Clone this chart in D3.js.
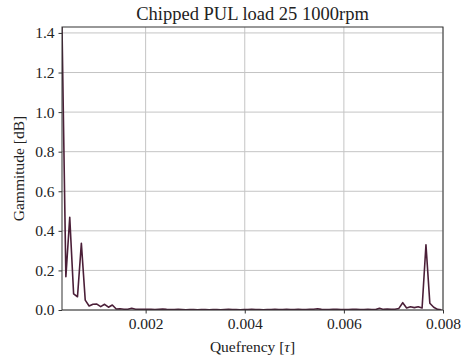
<!DOCTYPE html>
<html>
<head>
<meta charset="utf-8">
<script src="https://cdn.jsdelivr.net/npm/d3@7"></script>
<style>
  body { margin: 0; background: #fff; }
</style>
</head>
<body>
<div id="chart"></div>
<script>
// cepstrum samples, first bin shown is 4 (fs = 12800 Hz)
const sampleRate = 12800;
const firstBin = 4;
const gammitude = [
  1.43, 0.168, 0.468, 0.081, 0.067, 0.337, 0.05, 0.02, 0.029, 0.03,
  0.017, 0.029, 0.014, 0.025, 0.005, 0.006, 0.004, 0.004, 0.009, 0.004,
  0.003, 0.004, 0.003, 0.003, 0.002, 0.004, 0.005, 0.003, 0.002, 0.002,
  0.003, 0.002, 0.001, 0.002, 0.002, 0.001, 0.002, 0.002, 0.001, 0.002,
  0.002, 0.001, 0.002, 0.003, 0.002, 0.002, 0.001, 0.002, 0.002, 0.003,
  0.002, 0.002, 0.001, 0.002, 0.002, 0.003, 0.002, 0.002, 0.003, 0.002,
  0.002, 0.004, 0.002, 0.002, 0.003, 0.004, 0.006, 0.003, 0.002, 0.002,
  0.003, 0.004, 0.002, 0.002, 0.002, 0.003, 0.004, 0.002, 0.002, 0.003,
  0.002, 0.002, 0.009, 0.003, 0.005, 0.004, 0.004, 0.008, 0.037, 0.01,
  0.016, 0.012, 0.016, 0.01, 0.33, 0.034, 0.014, 0.003, 0.001
];
const xTicks = [0.002, 0.004, 0.006, 0.008];
const yTicks = [0.0, 0.2, 0.4, 0.6, 0.8, 1.0, 1.2, 1.4];

const data = gammitude.map((g, i) => ({ q: (i + firstBin) / sampleRate, g }));

const width = 462;
const height = 358;
const margin = { top: 27, right: 19, bottom: 48, left: 62 };
const innerWidth = width - margin.left - margin.right;
const innerHeight = height - margin.top - margin.bottom;
const font = "'Liberation Serif', 'Times New Roman', serif";

const svg = d3.select("#chart")
  .append("svg")
  .attr("width", width)
  .attr("height", height)
  .style("display", "block");

const x = d3.scaleLinear()
  .domain([firstBin / sampleRate, 0.008])
  .range([0, innerWidth]);

const y = d3.scaleLinear()
  .domain([0, 1.43])
  .range([innerHeight, 0]);

const g = svg.append("g")
  .attr("transform", `translate(${margin.left},${margin.top})`);

// grid
g.append("g")
  .selectAll("line")
  .data(xTicks)
  .enter()
  .append("line")
  .attr("x1", (d) => x(d)).attr("x2", (d) => x(d))
  .attr("y1", 0).attr("y2", innerHeight)
  .attr("stroke", "#c4c4c4")
  .attr("stroke-width", 1);

g.append("g")
  .selectAll("line")
  .data(yTicks)
  .enter()
  .append("line")
  .attr("x1", 0).attr("x2", innerWidth)
  .attr("y1", (d) => y(d)).attr("y2", (d) => y(d))
  .attr("stroke", "#c4c4c4")
  .attr("stroke-width", 1);

// line
svg.append("clipPath")
  .attr("id", "clip")
  .append("rect")
  .attr("width", innerWidth)
  .attr("height", innerHeight);

const line = d3.line()
  .x((d) => x(d.q))
  .y((d) => y(d.g));

g.append("path")
  .datum(data)
  .attr("clip-path", "url(#clip)")
  .attr("fill", "none")
  .attr("stroke", "#4b1f38")
  .attr("stroke-width", 1.6)
  .attr("stroke-linejoin", "round")
  .attr("d", line);

// frame
g.append("rect")
  .attr("width", innerWidth)
  .attr("height", innerHeight)
  .attr("fill", "none")
  .attr("stroke", "#333")
  .attr("stroke-width", 1);

// axes
const xAxis = d3.axisBottom(x)
  .tickValues(xTicks)
  .tickFormat(d3.format(".3f"))
  .tickSize(3.5)
  .tickPadding(4);

const yAxis = d3.axisLeft(y)
  .tickValues(yTicks)
  .tickFormat(d3.format(".1f"))
  .tickSize(3.5)
  .tickPadding(4);

g.append("g")
  .attr("transform", `translate(0,${innerHeight})`)
  .call(xAxis)
  .call((s) => s.select(".domain").remove())
  .call((s) => s.selectAll("line").attr("stroke", "#333"))
  .selectAll("text")
  .attr("fill", "#222")
  .style("font-family", font)
  .style("font-size", "15.5px");

g.append("g")
  .call(yAxis)
  .call((s) => s.select(".domain").remove())
  .call((s) => s.selectAll("line").attr("stroke", "#333"))
  .selectAll("text")
  .attr("fill", "#222")
  .style("font-family", font)
  .style("font-size", "15.5px");

// title and labels
svg.append("text")
  .attr("x", margin.left + innerWidth / 2)
  .attr("y", 20)
  .attr("text-anchor", "middle")
  .attr("fill", "#222")
  .style("font-family", font)
  .style("font-size", "18.5px")
  .text("Chipped PUL load 25 1000rpm");

const xl = svg.append("text")
  .attr("x", margin.left + innerWidth / 2)
  .attr("y", 352)
  .attr("text-anchor", "middle")
  .attr("fill", "#222")
  .style("font-family", font)
  .style("font-size", "15.5px");
xl.append("tspan").text("Quefrency [");
xl.append("tspan").style("font-style", "italic").text("τ");
xl.append("tspan").text("]");

svg.append("text")
  .attr("transform", "rotate(-90)")
  .attr("x", -(margin.top + innerHeight / 2))
  .attr("y", 24)
  .attr("text-anchor", "middle")
  .attr("fill", "#222")
  .style("font-family", font)
  .style("font-size", "15.5px")
  .text("Gammitude [dB]");
</script>
</body>
</html>
